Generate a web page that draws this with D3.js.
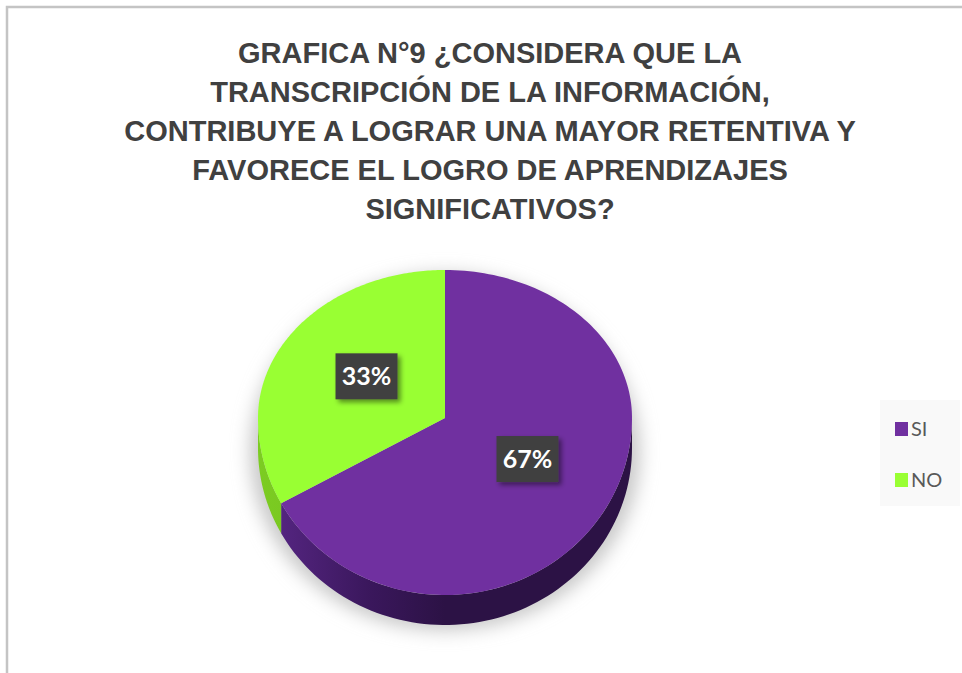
<!DOCTYPE html>
<html><head><meta charset="utf-8">
<script src="https://cdn.jsdelivr.net/npm/d3@7"></script>
<style>html,body{margin:0;padding:0;background:#fff;}svg{display:block;}</style>
</head><body>
<svg id="chart" width="962" height="673"></svg>
<script>
const titleLines = [
  "GRAFICA N°9 ¿CONSIDERA QUE LA",
  "TRANSCRIPCIÓN DE LA INFORMACIÓN,",
  "CONTRIBUYE A LOGRAR UNA MAYOR RETENTIVA Y",
  "FAVORECE EL LOGRO DE APRENDIZAJES",
  "SIGNIFICATIVOS?"
];
const categories = ["SI", "NO"];
const values = [67, 33];
const colors = ["#7030a0", "#99ff33"];
const sideColors = [["#4b1f72", "#2c1245"], ["#7ccc22", "#5c9a14"]];

const svg = d3.select("#chart");
const defs = svg.append("defs");

// border
svg.append("path").attr("d", "M7,673 L7,7 L962,7").attr("fill", "none").attr("stroke", "#c4c4c4").attr("stroke-width", 2.5);

// title (condensed via horizontal scale)
const fsz = 29;
const title = svg.append("g").attr("font-family", "'Liberation Sans Narrow','Arial Narrow','Liberation Sans',sans-serif")
  .attr("font-weight", "bold").attr("fill", "#404040").attr("text-anchor", "middle");
const tl = title.selectAll("text").data(titleLines).join("text")
  .attr("font-size", fsz).text(d => d);
const w3 = tl.nodes()[2].getComputedTextLength();
const sx = Math.min(1, 744 / w3);
tl.attr("transform", (d, i) => `translate(490,${63 + i * 39}) scale(${sx},1)`);

// pie geometry
const cx = 445, cy = 418, rx = 187, ryBack = 148, ryFront = 177, depth = 30;
const proj = (a, r = 1, dy = 0) => {
  const c = Math.cos(a);
  const ry = c > 0 ? ryBack : ryFront;
  return [cx + rx * r * Math.sin(a), cy - ry * r * c + dy];
};

const pie = d3.pie().sort(null).value(d => d)(values);

// shadow
const f = defs.append("filter").attr("id", "blur").attr("x", "-30%").attr("y", "-30%").attr("width", "160%").attr("height", "160%");
f.append("feGaussianBlur").attr("stdDeviation", 9);
svg.append("ellipse").attr("cx", cx).attr("cy", cy + 34).attr("rx", rx + 8)
  .attr("ry", (ryBack + ryFront) / 2 + 16).attr("fill", "#c8c8c8").attr("filter", "url(#blur)");

const line = d3.line();
const sample = (a0, a1, n = 80) => d3.range(n + 1).map(i => a0 + (a1 - a0) * i / n);

// side walls (front half: angles between PI/2 and 3PI/2)
pie.forEach((d, i) => {
  const a0 = Math.max(d.startAngle, Math.PI / 2), a1 = Math.min(d.endAngle, 3 * Math.PI / 2);
  if (a1 <= a0) return;
  const gid = "side" + i;
  const lg = defs.append("linearGradient").attr("id", gid).attr("gradientUnits", "userSpaceOnUse")
    .attr("x1", cx - rx).attr("x2", cx + rx).attr("y1", 0).attr("y2", 0);
  if (i === 0) {
    lg.append("stop").attr("offset", 0).attr("stop-color", "#5a2888");
    lg.append("stop").attr("offset", 0.3).attr("stop-color", "#3a175c");
    lg.append("stop").attr("offset", 0.5).attr("stop-color", "#2c1245");
    lg.append("stop").attr("offset", 1).attr("stop-color", "#2c1245");
  } else {
    lg.append("stop").attr("offset", 0).attr("stop-color", sideColors[1][0]);
    lg.append("stop").attr("offset", 1).attr("stop-color", sideColors[1][1]);
  }
  const top = sample(a0, a1).map(a => proj(a));
  const bot = sample(a1, a0).map(a => proj(a, 1, depth));
  svg.append("path").attr("d", line(top.concat(bot)) + "Z").attr("fill", `url(#${gid})`);
});

// top faces
pie.forEach((d, i) => {
  const pts = [[cx, cy]].concat(sample(d.startAngle, d.endAngle, 160).map(a => proj(a)));
  svg.append("path").attr("d", line(pts) + "Z").attr("fill", colors[i]);
});

// labels
const ds = defs.append("filter").attr("id", "ds").attr("x", "-30%").attr("y", "-30%").attr("width", "170%").attr("height", "170%");
ds.append("feDropShadow").attr("dx", 3).attr("dy", 3).attr("stdDeviation", 2.5).attr("flood-color", "#000").attr("flood-opacity", 0.45);
const total = d3.sum(values);
pie.forEach((d, i) => {
  const mid = (d.startAngle + d.endAngle) / 2;
  const [lx, ly] = proj(mid, 0.5, -4);
  const g = svg.append("g").attr("transform", `translate(${lx + 2},${ly})`);
  g.append("rect").attr("x", -31).attr("y", -23).attr("width", 62).attr("height", 46).attr("fill", "#404040").attr("filter", "url(#ds)");
  g.append("text").attr("text-anchor", "middle").attr("y", 9).attr("fill", "#fff")
    .attr("font-family", "Lato,'Open Sans',sans-serif").attr("font-size", 25).attr("font-weight", "bold")
    .text(Math.round(d.value / total * 100) + "%");
});

// legend
svg.append("rect").attr("x", 880).attr("y", 400).attr("width", 80).attr("height", 106).attr("fill", "#f9f9f9");
const lgd = svg.append("g");
categories.forEach((c, i) => {
  const y = 422 + i * 51;
  lgd.append("rect").attr("x", 895).attr("y", y).attr("width", 13).attr("height", 14).attr("fill", colors[i]);
  lgd.append("text").attr("x", 911).attr("y", y + 14).attr("font-family", "Lato,'Open Sans',sans-serif")
    .attr("font-size", 20).attr("fill", "#595959").text(c);
});
</script>
</body></html>
